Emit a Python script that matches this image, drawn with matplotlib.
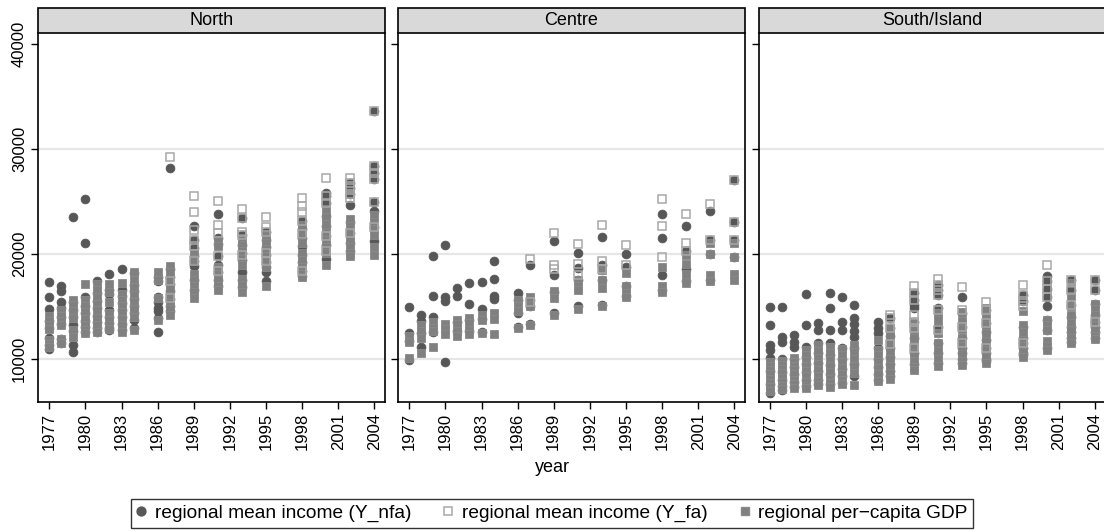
import matplotlib
matplotlib.use("Agg")
import matplotlib.pyplot as plt
from matplotlib.lines import Line2D
from matplotlib.patches import Rectangle

plt.rcParams['font.family'] = ['Liberation Sans', 'DejaVu Sans']

# ---------------------------------------------------------------- data
years = [1977, 1978, 1979, 1980, 1981, 1982, 1983, 1984, 1986, 1987,
         1989, 1991, 1993, 1995, 1998, 2000, 2002, 2004]
panel_titles = ["North", "Centre", "South/Island"]
x_ticks = [1977, 1980, 1983, 1986, 1989, 1992, 1995, 1998, 2001, 2004]
y_ticks = [10000, 20000, 30000, 40000]
legend_labels = ["regional mean income (Y_nfa)",
                 "regional mean income (Y_fa)",
                 "regional per\u2212capita GDP"]

# regional mean income without financial assets (Y_nfa), one list per year
north_nfa = [
    [17250, 15900, 14700, 13600, 12900, 12000, 11300, 10900],
    [16950, 16400, 15350, 14800, 14000, 13300, 11900, 11500],
    [23450, 15400, 14600, 14000, 13200, 12600, 11300, 10600],
    [25150, 21050, 15900, 15000, 14300, 13600, 13000, 12500],
    [17400, 16200, 15500, 14800, 14100, 13500, 12900, 12500],
    [18050, 16550, 16150, 14650, 14000, 13400, 12900, 12700],
    [18550, 16550, 16000, 15300, 14600, 14000, 13300, 12700],
    [18150, 17050, 16400, 15700, 15000, 14300, 13700, 12900],
    [17800, 15900, 15400, 14800, 14500, 13900, 12500, 17400],
    [28100, 18500, 17800, 17100, 16400, 15700, 15000, 14500],
    [22650, 21300, 20500, 19800, 19300, 18850, 17500, 16500],
    [23800, 21500, 20900, 19800, 18900, 18200, 17500, 16900],
    [23400, 21800, 20800, 20100, 19400, 18200, 17500, 16800],
    [22100, 21300, 20600, 19900, 19200, 18700, 18200, 17400],
    [23100, 22300, 21500, 20700, 19900, 19200, 18300, 17900],
    [25800, 25450, 24850, 23600, 22600, 21650, 20800, 19500],
    [26700, 26200, 25700, 24650, 23000, 22000, 21000, 20200],
    [33600, 28300, 27700, 27100, 24950, 24050, 22500, 21200],
]
centre_nfa = [
    [14950, 12400, 11700, 9900],
    [14150, 13600, 12400, 11100],
    [19750, 15990, 14000, 12500],
    [20770, 15900, 15450, 9650],
    [16720, 15990, 13500, 12600],
    [17200, 15220, 13700, 12600],
    [17330, 14700, 13800, 12500],
    [19270, 17580, 15990, 15700],
    [16200, 15600, 14300, 13000],
    [18950, 15600, 15000, 13300],
    [21200, 17950, 16300, 14300],
    [20060, 18630, 17500, 15000],
    [21560, 18900, 17500, 15100],
    [20000, 18730, 16900, 16000],
    [23730, 21500, 17990, 16500],
    [22610, 20220, 18500, 17400],
    [24050, 21340, 20000, 17500],
    [27000, 23000, 21340, 19700],
]
south_nfa = [
    [14900, 13220, 11300, 10830, 10030, 8800, 7600, 6700],
    [14900, 12050, 11550, 10000, 8750, 8000, 7400, 7000],
    [12250, 11600, 11100, 10000, 9200, 8500, 7800, 7300],
    [16150, 13220, 11150, 10200, 9500, 8700, 8000, 7400],
    [13380, 12750, 11470, 10500, 9600, 8800, 8000, 7600],
    [16250, 14800, 12750, 11450, 10300, 9400, 8500, 7600],
    [15900, 13450, 12700, 11000, 10000, 9000, 8300, 7700],
    [15130, 13850, 13250, 12600, 12100, 11000, 9500, 8300],
    [13450, 12900, 12400, 11000, 10000, 9200, 8500, 8000],
    [13850, 12900, 12200, 11000, 10200, 9500, 8800, 8300],
    [16250, 15600, 15130, 14800, 13500, 12000, 10500, 9500],
    [17000, 16500, 16100, 14800, 13000, 11500, 10500, 9600],
    [15860, 14300, 13000, 12000, 11000, 10500, 10000, 9600],
    [14650, 13380, 12500, 11800, 11000, 10500, 10000, 9800],
    [16080, 15450, 13000, 12000, 11500, 11000, 10500, 10300],
    [17900, 17350, 16600, 15900, 14970, 13700, 12700, 11000],
    [17500, 16550, 15130, 14000, 13000, 12500, 12000, 11600],
    [17500, 16550, 15200, 14200, 13500, 13000, 12500, 12000],
]

# regional mean income including financial assets (Y_fa), from 1987 on
north_fa = [[], [], [], [], [], [], [], [], [],
    [29200, 17350, 15750],
    [25500, 23950, 22250, 21300, 20700, 19300],
    [24980, 22760, 21970, 19800, 18300],
    [24200, 23400, 22100, 21800, 19900],
    [23450, 22500, 22100, 20100, 19300],
    [25300, 24550, 23950, 23100, 21900, 18300],
    [27150, 25450, 24850, 21650, 20200],
    [27150, 26700, 26200, 25700, 25300, 22000],
    [33600, 28300, 27700, 27100, 24950, 22500],
]
centre_fa = [[], [], [], [], [], [], [], [], [],
    [19450, 15400],
    [21970, 18900, 18500],
    [20920, 19010, 17990],
    [22680, 19270, 18500],
    [20860, 18950],
    [25150, 22600, 19700],
    [23800, 21020, 20220],
    [24680, 21340],
    [27000, 23000, 21340],
]
south_fa = [[], [], [], [], [], [], [], [], [],
    [14170, 13850, 12900, 11400],
    [16880, 16250, 15600, 14170, 13500, 12900, 11000],
    [17580, 17000, 16500, 16100, 14650, 12740],
    [16780, 14650, 13000, 11500],
    [15350, 14650, 13380, 11000],
    [16970, 16080, 15450, 14970, 11500],
    [18950, 17350, 16600, 15900],
    [17500, 16550, 15130],
    [17500, 16550, 13500],
]

# regional per-capita GDP
north_gdp = [
    [14100, 13600, 13200, 12850, 11750, 11400, 11100],
    [14600, 14100, 13600, 13200, 11900, 11500],
    [15600, 15100, 14500, 13900, 12700, 12100],
    [17100, 15600, 15000, 14400, 13800, 13200, 12700, 12400],
    [17150, 16500, 15900, 15200, 14600, 13900, 13200, 12500],
    [17150, 16300, 15350, 14300, 13700, 13200, 12800],
    [17200, 16150, 15600, 15000, 14400, 13800, 13200, 12550],
    [18200, 17500, 16800, 16100, 15400, 14700, 14000, 12700],
    [18200, 17450, 15750, 13700],
    [18800, 18200, 17400, 16700, 16000, 15300, 14700, 14200],
    [20100, 19500, 18100, 17500, 16900, 16300, 15800],
    [21300, 20700, 18700, 18100, 17500, 16900, 16500],
    [21500, 20800, 20200, 19500, 18900, 17600, 17000, 16300],
    [21700, 21000, 20400, 19800, 19200, 18700, 16900],
    [22700, 22000, 21000, 20100, 19400, 18700, 18100, 17750],
    [24200, 23500, 22800, 22000, 21300, 20600, 20100, 18950],
    [23300, 22600, 21900, 21200, 20600, 20100, 19800],
    [23700, 23000, 22300, 21800, 20600, 19900],
]
centre_gdp = [
    [12150, 11550, 10100],
    [13200, 12600, 12000, 10550],
    [13500, 12900, 12600, 11100],
    [13300, 12800, 12350],
    [13700, 13300, 12600, 12200],
    [13850, 13400, 12700, 12300],
    [14200, 13700, 12400],
    [14350, 13750, 12350],
    [15600, 15000, 14500, 12950],
    [15900, 15000, 13200],
    [16400, 15800, 14170],
    [17500, 16900, 16500, 14750],
    [18400, 17500, 16700, 14970],
    [18150, 16900, 16200, 15900],
    [18700, 16950, 16300],
    [19900, 19000, 18100, 17200],
    [21000, 20000, 18000, 17400],
    [21000, 19650, 18100, 17450],
]
south_gdp = [
    [9700, 9300, 8900, 8500, 8100, 7700, 7300, 6950],
    [9800, 9400, 9000, 8600, 8200, 7800, 7400, 7150],
    [10100, 9700, 9300, 8900, 8500, 8000, 7600, 7250],
    [10800, 10300, 9800, 9300, 8800, 8300, 7800, 7250],
    [11300, 10700, 10100, 9500, 8900, 8300, 7900, 7500],
    [11150, 10500, 9900, 9300, 8700, 8100, 7700, 7260],
    [10900, 10300, 9700, 9100, 8500, 8000, 7550],
    [11300, 10600, 10000, 9300, 8600, 7470],
    [11800, 10800, 10300, 9700, 9100, 8500, 7900],
    [12900, 12200, 11400, 10700, 10000, 9300, 8600, 8100],
    [13500, 12700, 12000, 11200, 10500, 9800, 9200, 8900],
    [14300, 13700, 12400, 11500, 10700, 10000, 9300],
    [14400, 13600, 12800, 12000, 11200, 10400, 9800, 9400],
    [14800, 14000, 13200, 12400, 11600, 10800, 10200, 9600],
    [14500, 13200, 12500, 11800, 11200, 10600, 10200],
    [13700, 13200, 12700, 11700, 11200, 10850],
    [17200, 16000, 15000, 14200, 13400, 12700, 12000, 11470],
    [15200, 14700, 14200, 13700, 13200, 12700, 12200, 11850],
]

panels = [
    (north_nfa, north_fa, north_gdp),
    (centre_nfa, centre_fa, centre_gdp),
    (south_nfa, south_fa, south_gdp),
]

# ---------------------------------------------------------------- style
C_NFA = "#575757"
C_FA = "#a8a8a8"
C_GDP = "#808080"
STRIP = "#d9d9d9"
GRID = "#e6e6e6"

W, H = 1104, 531
fig = plt.figure(figsize=(W / 100, H / 100), dpi=100)

pan_left = [38, 398, 758.5]
pan_w = 347
pan_top, pan_bot = 33, 402
strip_top = 8


def flatten(series):
    xs, ys = [], []
    for yr, vals in zip(years, series):
        xs.extend([yr] * len(vals))
        ys.extend(vals)
    return xs, ys


for i, (title, (nfa, fa, gdp)) in enumerate(zip(panel_titles, panels)):
    ax = fig.add_axes([pan_left[i] / W, 1 - pan_bot / H,
                       pan_w / W, (pan_bot - pan_top) / H])
    ax.set_xlim(1976.06, 2004.89)
    ax.set_ylim(5870, 41000)

    for g in (10000, 20000, 30000):
        ax.axhline(g, color=GRID, lw=1.6, zorder=0)

    x, y = flatten(nfa)
    ax.plot(x, y, ls="none", marker="o", ms=6.4, mfc=C_NFA, mec=C_NFA,
            mew=0.5, zorder=2)
    x, y = flatten(gdp)
    ax.plot(x, y, ls="none", marker="s", ms=5.9, mfc=C_GDP, mec="#8a8a8a",
            mew=0.6, zorder=3)
    x, y = flatten(fa)
    ax.plot(x, y, ls="none", marker="s", ms=5.6, mfc="none", mec=C_FA,
            mew=1.1, zorder=4)

    ax.set_xticks(x_ticks)
    ax.set_xticklabels([str(t) for t in x_ticks], rotation=90, fontsize=12)
    ax.set_yticks(y_ticks)
    if i == 0:
        ax.set_yticklabels([str(t) for t in y_ticks], rotation=90,
                           va="center", fontsize=12)
    else:
        ax.set_yticklabels([])
        ax.tick_params(axis="y", length=0)
    ax.tick_params(direction="out", length=5, width=1, color="black",
                   pad=3)
    for s in ax.spines.values():
        s.set_color("black")
        s.set_linewidth(1.2)
    ax.spines["top"].set_visible(False)

    # panel header strip
    fig.add_artist(Rectangle((pan_left[i] / W, 1 - pan_top / H),
                             pan_w / W, (pan_top - strip_top) / H,
                             transform=fig.transFigure, facecolor=STRIP,
                             edgecolor="black", lw=1.2, zorder=5))
    fig.text((pan_left[i] + pan_w / 2) / W, 1 - (pan_top + strip_top) / 2 / H,
             title, ha="center", va="center", fontsize=13, zorder=6)

fig.text(0.5, 1 - 468 / H, "year", ha="center", va="center", fontsize=13)

handles = [
    Line2D([], [], ls="none", marker="o", ms=6.4, mfc=C_NFA, mec=C_NFA),
    Line2D([], [], ls="none", marker="s", ms=5.6, mfc="none", mec=C_FA,
           mew=1.1),
    Line2D([], [], ls="none", marker="s", ms=5.9, mfc=C_GDP, mec="#8a8a8a"),
]
leg = fig.legend(handles, legend_labels, loc="lower center",
                 bbox_to_anchor=(0.5, 3 / H), borderaxespad=0, ncol=3,
                 fontsize=13.8, frameon=True, fancybox=False,
                 handlelength=0.5, handletextpad=0.45, columnspacing=1.7,
                 borderpad=0.3)
leg.get_frame().set_edgecolor("black")
leg.get_frame().set_linewidth(1.0)

fig.savefig("out.png", dpi=100)
